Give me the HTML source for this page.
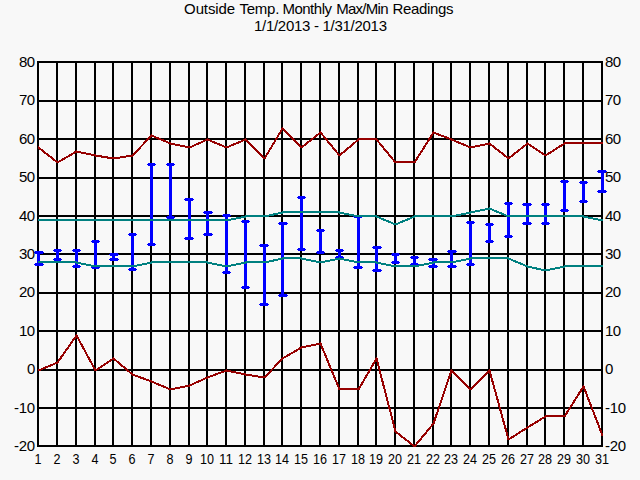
<!DOCTYPE html>
<html><head><meta charset="utf-8"><title>Outside Temp. Monthly Max/Min Readings</title>
<style>
html,body{margin:0;padding:0;background:#f8f8f8;}
body{width:640px;height:480px;overflow:hidden;position:relative;font-family:"Liberation Sans",sans-serif;}
svg{position:absolute;left:0;top:0;display:block;}
text{font-family:"Liberation Sans",sans-serif;font-size:15px;fill:#000;}
</style></head><body>
<svg width="640" height="480" viewBox="0 0 640 480">
<rect x="0" y="0" width="640" height="480" fill="#f8f8f8"/>
<!-- grid -->
<g fill="#000" shape-rendering="crispEdges">
<rect x="37" y="61" width="2" height="386"/><rect x="56" y="61" width="2" height="386"/><rect x="75" y="61" width="2" height="386"/><rect x="94" y="61" width="2" height="386"/><rect x="112" y="61" width="2" height="386"/><rect x="131" y="61" width="2" height="386"/><rect x="150" y="61" width="2" height="386"/><rect x="169" y="61" width="2" height="386"/><rect x="188" y="61" width="2" height="386"/><rect x="206" y="61" width="2" height="386"/><rect x="225" y="61" width="2" height="386"/><rect x="244" y="61" width="2" height="386"/><rect x="263" y="61" width="2" height="386"/><rect x="281" y="61" width="2" height="386"/><rect x="300" y="61" width="2" height="386"/><rect x="319" y="61" width="2" height="386"/><rect x="338" y="61" width="2" height="386"/><rect x="357" y="61" width="2" height="386"/><rect x="375" y="61" width="2" height="386"/><rect x="394" y="61" width="2" height="386"/><rect x="413" y="61" width="2" height="386"/><rect x="432" y="61" width="2" height="386"/><rect x="450" y="61" width="2" height="386"/><rect x="469" y="61" width="2" height="386"/><rect x="488" y="61" width="2" height="386"/><rect x="507" y="61" width="2" height="386"/><rect x="526" y="61" width="2" height="386"/><rect x="544" y="61" width="2" height="386"/><rect x="563" y="61" width="2" height="386"/><rect x="582" y="61" width="2" height="386"/><rect x="601" y="61" width="2" height="386"/>
<rect x="37" y="61" width="566" height="2"/><rect x="37" y="100" width="566" height="2"/><rect x="37" y="138" width="566" height="2"/><rect x="37" y="177" width="566" height="2"/><rect x="37" y="215" width="566" height="2"/><rect x="37" y="253" width="566" height="2"/><rect x="37" y="292" width="566" height="2"/><rect x="37" y="330" width="566" height="2"/><rect x="37" y="369" width="566" height="2"/><rect x="37" y="407" width="566" height="2"/><rect x="37" y="445" width="566" height="2"/>
</g>
<!-- record high / record low -->
<path fill="#960000" shape-rendering="crispEdges" d="M282 127h1v1h-1zM281 128h3v1h-3zM281 129h4v1h-4zM280 130h2v1h-2zM283 130h3v1h-3zM280 131h2v1h-2zM284 131h3v1h-3zM320 131h1v1h-1zM433 131h1v1h-1zM279 132h2v1h-2zM285 132h3v1h-3zM319 132h3v1h-3zM432 132h4v1h-4zM278 133h3v1h-3zM286 133h3v1h-3zM318 133h5v1h-5zM432 133h7v1h-7zM151 134h1v1h-1zM278 134h2v1h-2zM287 134h3v1h-3zM316 134h4v1h-4zM321 134h2v1h-2zM431 134h2v1h-2zM436 134h5v1h-5zM150 135h4v1h-4zM277 135h2v1h-2zM288 135h3v1h-3zM315 135h3v1h-3zM322 135h2v1h-2zM430 135h3v1h-3zM438 135h6v1h-6zM149 136h7v1h-7zM277 136h2v1h-2zM289 136h3v1h-3zM314 136h3v1h-3zM323 136h2v1h-2zM430 136h2v1h-2zM441 136h6v1h-6zM148 137h3v1h-3zM154 137h5v1h-5zM276 137h2v1h-2zM290 137h3v1h-3zM313 137h3v1h-3zM323 137h3v1h-3zM429 137h3v1h-3zM444 137h5v1h-5zM147 138h3v1h-3zM156 138h5v1h-5zM207 138h1v1h-1zM245 138h1v1h-1zM275 138h3v1h-3zM291 138h3v1h-3zM311 138h3v1h-3zM324 138h3v1h-3zM358 138h19v1h-19zM428 138h3v1h-3zM446 138h6v1h-6zM146 139h3v1h-3zM158 139h6v1h-6zM205 139h5v1h-5zM243 139h4v1h-4zM275 139h2v1h-2zM292 139h3v1h-3zM310 139h3v1h-3zM325 139h3v1h-3zM357 139h21v1h-21zM428 139h2v1h-2zM449 139h5v1h-5zM145 140h3v1h-3zM161 140h5v1h-5zM203 140h9v1h-9zM241 140h7v1h-7zM274 140h2v1h-2zM293 140h3v1h-3zM309 140h3v1h-3zM326 140h2v1h-2zM356 140h3v1h-3zM376 140h3v1h-3zM427 140h3v1h-3zM451 140h5v1h-5zM144 141h3v1h-3zM163 141h5v1h-5zM201 141h4v1h-4zM210 141h5v1h-5zM238 141h5v1h-5zM246 141h3v1h-3zM274 141h2v1h-2zM294 141h3v1h-3zM307 141h4v1h-4zM327 141h2v1h-2zM355 141h3v1h-3zM377 141h2v1h-2zM427 141h2v1h-2zM454 141h5v1h-5zM143 142h3v1h-3zM166 142h5v1h-5zM198 142h5v1h-5zM212 142h5v1h-5zM236 142h5v1h-5zM247 142h3v1h-3zM273 142h2v1h-2zM295 142h3v1h-3zM306 142h3v1h-3zM327 142h3v1h-3zM353 142h3v1h-3zM378 142h2v1h-2zM426 142h2v1h-2zM456 142h5v1h-5zM489 142h1v1h-1zM527 142h1v1h-1zM564 142h39v1h-39zM143 143h2v1h-2zM168 143h7v1h-7zM196 143h5v1h-5zM214 143h6v1h-6zM233 143h6v1h-6zM248 143h3v1h-3zM272 143h3v1h-3zM296 143h3v1h-3zM305 143h3v1h-3zM328 143h3v1h-3zM352 143h3v1h-3zM379 143h2v1h-2zM425 143h3v1h-3zM458 143h6v1h-6zM485 143h6v1h-6zM526 143h3v1h-3zM563 143h40v1h-40zM142 144h2v1h-2zM170 144h10v1h-10zM194 144h5v1h-5zM217 144h5v1h-5zM231 144h5v1h-5zM249 144h3v1h-3zM272 144h2v1h-2zM297 144h3v1h-3zM304 144h3v1h-3zM329 144h3v1h-3zM351 144h3v1h-3zM379 144h3v1h-3zM425 144h2v1h-2zM461 144h5v1h-5zM480 144h12v1h-12zM525 144h6v1h-6zM561 144h4v1h-4zM141 145h2v1h-2zM175 145h10v1h-10zM192 145h4v1h-4zM219 145h5v1h-5zM229 145h5v1h-5zM250 145h3v1h-3zM271 145h2v1h-2zM298 145h3v1h-3zM302 145h4v1h-4zM330 145h3v1h-3zM350 145h3v1h-3zM380 145h3v1h-3zM424 145h2v1h-2zM463 145h5v1h-5zM475 145h10v1h-10zM490 145h4v1h-4zM523 145h4v1h-4zM529 145h3v1h-3zM559 145h4v1h-4zM38 146h1v1h-1zM140 146h2v1h-2zM180 146h14v1h-14zM222 146h9v1h-9zM251 146h3v1h-3zM271 146h2v1h-2zM299 146h5v1h-5zM331 146h2v1h-2zM349 146h3v1h-3zM381 146h3v1h-3zM423 146h3v1h-3zM466 146h14v1h-14zM492 146h3v1h-3zM522 146h3v1h-3zM530 146h4v1h-4zM558 146h4v1h-4zM38 147h2v1h-2zM139 147h2v1h-2zM185 147h7v1h-7zM224 147h5v1h-5zM252 147h3v1h-3zM270 147h2v1h-2zM300 147h3v1h-3zM332 147h2v1h-2zM347 147h4v1h-4zM382 147h2v1h-2zM423 147h2v1h-2zM468 147h7v1h-7zM493 147h3v1h-3zM521 147h3v1h-3zM532 147h3v1h-3zM556 147h4v1h-4zM38 148h3v1h-3zM138 148h3v1h-3zM253 148h3v1h-3zM269 148h3v1h-3zM332 148h3v1h-3zM346 148h3v1h-3zM383 148h2v1h-2zM422 148h3v1h-3zM494 148h3v1h-3zM520 148h3v1h-3zM533 148h4v1h-4zM555 148h3v1h-3zM39 149h4v1h-4zM137 149h3v1h-3zM254 149h3v1h-3zM269 149h2v1h-2zM333 149h3v1h-3zM345 149h3v1h-3zM383 149h3v1h-3zM422 149h2v1h-2zM495 149h4v1h-4zM518 149h3v1h-3zM535 149h3v1h-3zM553 149h4v1h-4zM41 150h3v1h-3zM76 150h1v1h-1zM136 150h3v1h-3zM255 150h3v1h-3zM268 150h2v1h-2zM334 150h3v1h-3zM344 150h3v1h-3zM384 150h3v1h-3zM421 150h2v1h-2zM497 150h3v1h-3zM517 150h3v1h-3zM536 150h4v1h-4zM552 150h3v1h-3zM42 151h3v1h-3zM74 151h7v1h-7zM135 151h3v1h-3zM256 151h3v1h-3zM268 151h2v1h-2zM335 151h2v1h-2zM343 151h3v1h-3zM385 151h3v1h-3zM420 151h3v1h-3zM498 151h3v1h-3zM516 151h3v1h-3zM538 151h3v1h-3zM550 151h4v1h-4zM43 152h3v1h-3zM73 152h13v1h-13zM134 152h3v1h-3zM257 152h3v1h-3zM267 152h2v1h-2zM336 152h2v1h-2zM341 152h4v1h-4zM386 152h3v1h-3zM420 152h2v1h-2zM499 152h4v1h-4zM514 152h4v1h-4zM539 152h4v1h-4zM548 152h4v1h-4zM44 153h4v1h-4zM71 153h4v1h-4zM81 153h10v1h-10zM133 153h3v1h-3zM258 153h3v1h-3zM266 153h3v1h-3zM337 153h2v1h-2zM340 153h3v1h-3zM387 153h2v1h-2zM419 153h2v1h-2zM501 153h3v1h-3zM513 153h3v1h-3zM541 153h3v1h-3zM547 153h4v1h-4zM46 154h3v1h-3zM69 154h4v1h-4zM86 154h10v1h-10zM132 154h3v1h-3zM259 154h3v1h-3zM266 154h2v1h-2zM337 154h5v1h-5zM388 154h2v1h-2zM418 154h3v1h-3zM502 154h3v1h-3zM512 154h3v1h-3zM542 154h7v1h-7zM47 155h3v1h-3zM68 155h4v1h-4zM91 155h11v1h-11zM126 155h8v1h-8zM260 155h3v1h-3zM265 155h2v1h-2zM338 155h3v1h-3zM388 155h3v1h-3zM418 155h2v1h-2zM503 155h3v1h-3zM511 155h3v1h-3zM544 155h3v1h-3zM48 156h4v1h-4zM66 156h4v1h-4zM95 156h13v1h-13zM120 156h13v1h-13zM261 156h3v1h-3zM265 156h2v1h-2zM389 156h3v1h-3zM417 156h2v1h-2zM504 156h4v1h-4zM509 156h4v1h-4zM50 157h3v1h-3zM64 157h4v1h-4zM101 157h25v1h-25zM262 157h4v1h-4zM390 157h3v1h-3zM416 157h3v1h-3zM506 157h5v1h-5zM51 158h3v1h-3zM62 158h4v1h-4zM107 158h13v1h-13zM263 158h3v1h-3zM391 158h2v1h-2zM416 158h2v1h-2zM507 158h3v1h-3zM52 159h3v1h-3zM61 159h4v1h-4zM392 159h2v1h-2zM415 159h3v1h-3zM53 160h4v1h-4zM59 160h4v1h-4zM393 160h2v1h-2zM415 160h2v1h-2zM55 161h6v1h-6zM393 161h23v1h-23zM56 162h3v1h-3zM394 162h22v1h-22z"/>
<path fill="#960000" shape-rendering="crispEdges" d="M76 334h1v1h-1zM75 335h3v1h-3zM75 336h3v1h-3zM74 337h5v1h-5zM73 338h3v1h-3zM77 338h2v1h-2zM72 339h3v1h-3zM78 339h2v1h-2zM72 340h2v1h-2zM78 340h2v1h-2zM71 341h2v1h-2zM79 341h2v1h-2zM70 342h3v1h-3zM79 342h2v1h-2zM320 342h1v1h-1zM70 343h2v1h-2zM80 343h2v1h-2zM316 343h6v1h-6zM69 344h2v1h-2zM80 344h3v1h-3zM311 344h11v1h-11zM68 345h3v1h-3zM81 345h2v1h-2zM306 345h10v1h-10zM320 345h2v1h-2zM68 346h2v1h-2zM81 346h3v1h-3zM301 346h10v1h-10zM321 346h2v1h-2zM67 347h2v1h-2zM82 347h2v1h-2zM299 347h7v1h-7zM321 347h2v1h-2zM66 348h3v1h-3zM82 348h3v1h-3zM298 348h4v1h-4zM321 348h3v1h-3zM65 349h3v1h-3zM83 349h2v1h-2zM296 349h4v1h-4zM322 349h2v1h-2zM65 350h2v1h-2zM84 350h2v1h-2zM294 350h4v1h-4zM322 350h2v1h-2zM64 351h2v1h-2zM84 351h2v1h-2zM293 351h4v1h-4zM323 351h2v1h-2zM63 352h3v1h-3zM85 352h2v1h-2zM291 352h4v1h-4zM323 352h2v1h-2zM63 353h2v1h-2zM85 353h2v1h-2zM289 353h4v1h-4zM324 353h2v1h-2zM62 354h2v1h-2zM86 354h2v1h-2zM287 354h4v1h-4zM324 354h2v1h-2zM61 355h3v1h-3zM86 355h2v1h-2zM286 355h4v1h-4zM324 355h3v1h-3zM60 356h3v1h-3zM87 356h2v1h-2zM284 356h4v1h-4zM325 356h2v1h-2zM60 357h2v1h-2zM87 357h3v1h-3zM113 357h1v1h-1zM282 357h4v1h-4zM325 357h2v1h-2zM376 357h1v1h-1zM59 358h3v1h-3zM88 358h2v1h-2zM112 358h3v1h-3zM281 358h3v1h-3zM326 358h2v1h-2zM375 358h3v1h-3zM58 359h3v1h-3zM88 359h3v1h-3zM110 359h6v1h-6zM280 359h3v1h-3zM326 359h2v1h-2zM375 359h3v1h-3zM58 360h2v1h-2zM89 360h2v1h-2zM109 360h3v1h-3zM114 360h3v1h-3zM279 360h3v1h-3zM326 360h3v1h-3zM374 360h4v1h-4zM57 361h2v1h-2zM89 361h3v1h-3zM107 361h4v1h-4zM116 361h3v1h-3zM278 361h3v1h-3zM327 361h2v1h-2zM374 361h4v1h-4zM55 362h4v1h-4zM90 362h2v1h-2zM106 362h3v1h-3zM117 362h3v1h-3zM277 362h3v1h-3zM327 362h2v1h-2zM373 362h2v1h-2zM377 362h2v1h-2zM53 363h5v1h-5zM91 363h2v1h-2zM104 363h4v1h-4zM118 363h3v1h-3zM276 363h3v1h-3zM328 363h2v1h-2zM372 363h3v1h-3zM377 363h2v1h-2zM50 364h5v1h-5zM91 364h2v1h-2zM103 364h3v1h-3zM119 364h3v1h-3zM275 364h3v1h-3zM328 364h2v1h-2zM372 364h2v1h-2zM377 364h2v1h-2zM48 365h5v1h-5zM92 365h2v1h-2zM101 365h4v1h-4zM120 365h3v1h-3zM274 365h3v1h-3zM328 365h3v1h-3zM371 365h3v1h-3zM377 365h2v1h-2zM45 366h6v1h-6zM92 366h2v1h-2zM100 366h3v1h-3zM121 366h4v1h-4zM274 366h2v1h-2zM329 366h2v1h-2zM371 366h2v1h-2zM378 366h2v1h-2zM43 367h5v1h-5zM93 367h2v1h-2zM98 367h4v1h-4zM123 367h3v1h-3zM273 367h2v1h-2zM329 367h2v1h-2zM370 367h2v1h-2zM378 367h2v1h-2zM41 368h5v1h-5zM93 368h3v1h-3zM97 368h3v1h-3zM124 368h3v1h-3zM272 368h2v1h-2zM330 368h2v1h-2zM370 368h2v1h-2zM378 368h2v1h-2zM38 369h5v1h-5zM94 369h5v1h-5zM125 369h3v1h-3zM226 369h1v1h-1zM271 369h2v1h-2zM330 369h2v1h-2zM369 369h2v1h-2zM378 369h2v1h-2zM451 369h1v1h-1zM489 369h1v1h-1zM38 370h3v1h-3zM94 370h3v1h-3zM126 370h3v1h-3zM224 370h7v1h-7zM270 370h2v1h-2zM331 370h2v1h-2zM368 370h3v1h-3zM379 370h2v1h-2zM450 370h3v1h-3zM488 370h3v1h-3zM127 371h3v1h-3zM221 371h15v1h-15zM269 371h3v1h-3zM331 371h2v1h-2zM368 371h2v1h-2zM379 371h2v1h-2zM450 371h4v1h-4zM487 371h4v1h-4zM129 372h3v1h-3zM218 372h6v1h-6zM231 372h10v1h-10zM268 372h3v1h-3zM331 372h3v1h-3zM367 372h3v1h-3zM379 372h2v1h-2zM450 372h5v1h-5zM486 372h5v1h-5zM130 373h3v1h-3zM215 373h6v1h-6zM236 373h10v1h-10zM267 373h3v1h-3zM332 373h2v1h-2zM367 373h2v1h-2zM379 373h2v1h-2zM449 373h3v1h-3zM453 373h3v1h-3zM485 373h3v1h-3zM489 373h2v1h-2zM131 374h4v1h-4zM213 374h5v1h-5zM241 374h11v1h-11zM266 374h3v1h-3zM332 374h2v1h-2zM366 374h2v1h-2zM380 374h2v1h-2zM449 374h2v1h-2zM454 374h3v1h-3zM484 374h3v1h-3zM490 374h2v1h-2zM132 375h6v1h-6zM210 375h6v1h-6zM245 375h13v1h-13zM265 375h3v1h-3zM333 375h2v1h-2zM365 375h3v1h-3zM380 375h2v1h-2zM449 375h2v1h-2zM455 375h3v1h-3zM483 375h3v1h-3zM490 375h2v1h-2zM135 376h6v1h-6zM207 376h6v1h-6zM252 376h15v1h-15zM333 376h2v1h-2zM365 376h2v1h-2zM380 376h2v1h-2zM448 376h3v1h-3zM456 376h3v1h-3zM482 376h3v1h-3zM490 376h2v1h-2zM138 377h6v1h-6zM205 377h5v1h-5zM258 377h8v1h-8zM333 377h3v1h-3zM364 377h3v1h-3zM380 377h2v1h-2zM448 377h2v1h-2zM457 377h3v1h-3zM481 377h3v1h-3zM490 377h2v1h-2zM140 378h6v1h-6zM203 378h5v1h-5zM334 378h2v1h-2zM364 378h2v1h-2zM381 378h2v1h-2zM448 378h2v1h-2zM458 378h3v1h-3zM480 378h3v1h-3zM491 378h2v1h-2zM143 379h6v1h-6zM201 379h4v1h-4zM334 379h2v1h-2zM363 379h2v1h-2zM381 379h2v1h-2zM447 379h2v1h-2zM459 379h3v1h-3zM479 379h3v1h-3zM491 379h2v1h-2zM146 380h6v1h-6zM198 380h5v1h-5zM335 380h2v1h-2zM363 380h2v1h-2zM381 380h2v1h-2zM447 380h2v1h-2zM460 380h3v1h-3zM478 380h3v1h-3zM491 380h2v1h-2zM149 381h5v1h-5zM196 381h5v1h-5zM335 381h2v1h-2zM362 381h2v1h-2zM381 381h3v1h-3zM447 381h2v1h-2zM461 381h3v1h-3zM477 381h3v1h-3zM491 381h3v1h-3zM151 382h5v1h-5zM194 382h5v1h-5zM336 382h2v1h-2zM361 382h3v1h-3zM382 382h2v1h-2zM446 382h2v1h-2zM462 382h3v1h-3zM476 382h3v1h-3zM492 382h2v1h-2zM154 383h5v1h-5zM192 383h4v1h-4zM336 383h2v1h-2zM361 383h2v1h-2zM382 383h2v1h-2zM446 383h2v1h-2zM463 383h3v1h-3zM475 383h3v1h-3zM492 383h2v1h-2zM156 384h5v1h-5zM189 384h5v1h-5zM336 384h3v1h-3zM360 384h3v1h-3zM382 384h2v1h-2zM446 384h2v1h-2zM464 384h3v1h-3zM474 384h3v1h-3zM492 384h2v1h-2zM158 385h6v1h-6zM185 385h7v1h-7zM337 385h2v1h-2zM360 385h2v1h-2zM382 385h3v1h-3zM445 385h2v1h-2zM465 385h3v1h-3zM473 385h3v1h-3zM493 385h2v1h-2zM583 385h1v1h-1zM161 386h5v1h-5zM180 386h10v1h-10zM337 386h2v1h-2zM359 386h2v1h-2zM383 386h2v1h-2zM445 386h2v1h-2zM466 386h3v1h-3zM472 386h3v1h-3zM493 386h2v1h-2zM582 386h3v1h-3zM163 387h5v1h-5zM175 387h10v1h-10zM338 387h2v1h-2zM358 387h3v1h-3zM383 387h2v1h-2zM445 387h2v1h-2zM467 387h3v1h-3zM471 387h3v1h-3zM493 387h2v1h-2zM582 387h3v1h-3zM166 388h14v1h-14zM338 388h22v1h-22zM383 388h2v1h-2zM444 388h2v1h-2zM468 388h5v1h-5zM493 388h2v1h-2zM581 388h4v1h-4zM168 389h7v1h-7zM338 389h22v1h-22zM384 389h2v1h-2zM444 389h2v1h-2zM469 389h3v1h-3zM494 389h2v1h-2zM580 389h3v1h-3zM584 389h2v1h-2zM384 390h2v1h-2zM444 390h2v1h-2zM494 390h2v1h-2zM580 390h2v1h-2zM584 390h2v1h-2zM384 391h2v1h-2zM443 391h2v1h-2zM494 391h2v1h-2zM579 391h3v1h-3zM584 391h3v1h-3zM384 392h2v1h-2zM443 392h2v1h-2zM495 392h2v1h-2zM578 392h3v1h-3zM585 392h2v1h-2zM385 393h2v1h-2zM443 393h2v1h-2zM495 393h2v1h-2zM578 393h2v1h-2zM585 393h2v1h-2zM385 394h2v1h-2zM442 394h2v1h-2zM495 394h2v1h-2zM577 394h3v1h-3zM586 394h2v1h-2zM385 395h2v1h-2zM442 395h2v1h-2zM495 395h2v1h-2zM577 395h2v1h-2zM586 395h2v1h-2zM385 396h2v1h-2zM442 396h2v1h-2zM496 396h2v1h-2zM576 396h2v1h-2zM586 396h2v1h-2zM386 397h2v1h-2zM441 397h2v1h-2zM496 397h2v1h-2zM575 397h3v1h-3zM587 397h2v1h-2zM386 398h2v1h-2zM441 398h2v1h-2zM496 398h2v1h-2zM575 398h2v1h-2zM587 398h2v1h-2zM386 399h2v1h-2zM441 399h2v1h-2zM496 399h3v1h-3zM574 399h2v1h-2zM587 399h3v1h-3zM386 400h2v1h-2zM440 400h2v1h-2zM497 400h2v1h-2zM573 400h3v1h-3zM588 400h2v1h-2zM387 401h2v1h-2zM440 401h2v1h-2zM497 401h2v1h-2zM573 401h2v1h-2zM588 401h2v1h-2zM387 402h2v1h-2zM440 402h2v1h-2zM497 402h2v1h-2zM572 402h3v1h-3zM589 402h2v1h-2zM387 403h2v1h-2zM439 403h2v1h-2zM498 403h2v1h-2zM572 403h2v1h-2zM589 403h2v1h-2zM387 404h2v1h-2zM439 404h2v1h-2zM498 404h2v1h-2zM571 404h2v1h-2zM589 404h3v1h-3zM388 405h2v1h-2zM439 405h2v1h-2zM498 405h2v1h-2zM570 405h3v1h-3zM590 405h2v1h-2zM388 406h2v1h-2zM438 406h2v1h-2zM498 406h2v1h-2zM570 406h2v1h-2zM590 406h2v1h-2zM388 407h2v1h-2zM438 407h2v1h-2zM499 407h2v1h-2zM569 407h2v1h-2zM591 407h2v1h-2zM388 408h3v1h-3zM438 408h2v1h-2zM499 408h2v1h-2zM568 408h3v1h-3zM591 408h2v1h-2zM389 409h2v1h-2zM437 409h2v1h-2zM499 409h2v1h-2zM568 409h2v1h-2zM591 409h2v1h-2zM389 410h2v1h-2zM437 410h2v1h-2zM499 410h3v1h-3zM567 410h2v1h-2zM592 410h2v1h-2zM389 411h2v1h-2zM437 411h2v1h-2zM500 411h2v1h-2zM566 411h3v1h-3zM592 411h2v1h-2zM390 412h2v1h-2zM436 412h2v1h-2zM500 412h2v1h-2zM566 412h2v1h-2zM593 412h2v1h-2zM390 413h2v1h-2zM436 413h2v1h-2zM500 413h2v1h-2zM565 413h3v1h-3zM593 413h2v1h-2zM390 414h2v1h-2zM435 414h3v1h-3zM501 414h2v1h-2zM565 414h2v1h-2zM593 414h2v1h-2zM390 415h2v1h-2zM435 415h2v1h-2zM501 415h2v1h-2zM545 415h21v1h-21zM594 415h2v1h-2zM391 416h2v1h-2zM435 416h2v1h-2zM501 416h2v1h-2zM544 416h22v1h-22zM594 416h2v1h-2zM391 417h2v1h-2zM434 417h3v1h-3zM501 417h2v1h-2zM542 417h4v1h-4zM594 417h3v1h-3zM391 418h2v1h-2zM434 418h2v1h-2zM502 418h2v1h-2zM540 418h4v1h-4zM595 418h2v1h-2zM391 419h2v1h-2zM434 419h2v1h-2zM502 419h2v1h-2zM539 419h3v1h-3zM595 419h2v1h-2zM392 420h2v1h-2zM433 420h3v1h-3zM502 420h2v1h-2zM537 420h4v1h-4zM596 420h2v1h-2zM392 421h2v1h-2zM433 421h2v1h-2zM502 421h3v1h-3zM535 421h4v1h-4zM596 421h2v1h-2zM392 422h2v1h-2zM433 422h2v1h-2zM503 422h2v1h-2zM534 422h4v1h-4zM596 422h3v1h-3zM392 423h2v1h-2zM432 423h3v1h-3zM503 423h2v1h-2zM532 423h4v1h-4zM597 423h2v1h-2zM393 424h2v1h-2zM431 424h3v1h-3zM503 424h2v1h-2zM530 424h4v1h-4zM597 424h2v1h-2zM393 425h2v1h-2zM431 425h2v1h-2zM504 425h2v1h-2zM529 425h4v1h-4zM598 425h2v1h-2zM393 426h2v1h-2zM430 426h2v1h-2zM504 426h2v1h-2zM527 426h4v1h-4zM598 426h2v1h-2zM393 427h2v1h-2zM429 427h2v1h-2zM504 427h2v1h-2zM526 427h3v1h-3zM598 427h2v1h-2zM394 428h2v1h-2zM428 428h3v1h-3zM504 428h3v1h-3zM524 428h4v1h-4zM599 428h2v1h-2zM394 429h2v1h-2zM427 429h3v1h-3zM505 429h2v1h-2zM522 429h4v1h-4zM599 429h2v1h-2zM394 430h2v1h-2zM426 430h3v1h-3zM505 430h2v1h-2zM521 430h4v1h-4zM599 430h3v1h-3zM394 431h3v1h-3zM426 431h2v1h-2zM505 431h2v1h-2zM519 431h4v1h-4zM600 431h2v1h-2zM395 432h3v1h-3zM425 432h2v1h-2zM506 432h2v1h-2zM518 432h3v1h-3zM600 432h2v1h-2zM396 433h4v1h-4zM424 433h3v1h-3zM506 433h2v1h-2zM516 433h4v1h-4zM601 433h2v1h-2zM398 434h3v1h-3zM423 434h3v1h-3zM506 434h2v1h-2zM515 434h3v1h-3zM601 434h2v1h-2zM399 435h3v1h-3zM422 435h3v1h-3zM506 435h2v1h-2zM513 435h4v1h-4zM601 435h2v1h-2zM400 436h3v1h-3zM421 436h3v1h-3zM507 436h2v1h-2zM511 436h4v1h-4zM401 437h4v1h-4zM421 437h2v1h-2zM507 437h2v1h-2zM510 437h4v1h-4zM403 438h3v1h-3zM420 438h2v1h-2zM507 438h5v1h-5zM404 439h3v1h-3zM419 439h3v1h-3zM507 439h3v1h-3zM405 440h4v1h-4zM418 440h3v1h-3zM407 441h3v1h-3zM417 441h3v1h-3zM408 442h3v1h-3zM416 442h3v1h-3zM409 443h3v1h-3zM416 443h2v1h-2zM410 444h4v1h-4zM415 444h2v1h-2zM412 445h5v1h-5zM413 446h3v1h-3z"/>
<!-- daily hi/lo bars -->
<g fill="#0000ff" shape-rendering="crispEdges">
<rect x="37" y="252" width="3" height="12"/><rect x="35" y="251" width="8" height="3"/><rect x="34" y="252" width="10" height="1"/><rect x="35" y="263" width="8" height="3"/><rect x="34" y="264" width="10" height="1"/>
<rect x="56" y="250" width="3" height="9"/><rect x="54" y="249" width="7" height="3"/><rect x="53" y="250" width="9" height="1"/><rect x="54" y="258" width="7" height="3"/><rect x="53" y="259" width="9" height="1"/>
<rect x="75" y="250" width="3" height="16"/><rect x="73" y="249" width="7" height="3"/><rect x="72" y="250" width="9" height="1"/><rect x="73" y="265" width="7" height="3"/><rect x="72" y="266" width="9" height="1"/>
<rect x="94" y="241" width="3" height="26"/><rect x="92" y="240" width="7" height="3"/><rect x="91" y="241" width="9" height="1"/><rect x="92" y="266" width="7" height="3"/><rect x="91" y="267" width="9" height="1"/>
<rect x="112" y="254" width="3" height="5"/><rect x="110" y="253" width="8" height="3"/><rect x="109" y="254" width="10" height="1"/><rect x="110" y="258" width="8" height="3"/><rect x="109" y="259" width="10" height="1"/>
<rect x="131" y="234" width="3" height="35"/><rect x="129" y="233" width="7" height="3"/><rect x="128" y="234" width="9" height="1"/><rect x="129" y="268" width="7" height="3"/><rect x="128" y="269" width="9" height="1"/>
<rect x="150" y="164" width="3" height="80"/><rect x="148" y="163" width="7" height="3"/><rect x="147" y="164" width="9" height="1"/><rect x="148" y="243" width="7" height="3"/><rect x="147" y="244" width="9" height="1"/>
<rect x="169" y="164" width="3" height="53"/><rect x="167" y="163" width="7" height="3"/><rect x="166" y="164" width="9" height="1"/><rect x="167" y="216" width="7" height="3"/><rect x="166" y="217" width="9" height="1"/>
<rect x="188" y="199" width="3" height="39"/><rect x="185" y="198" width="8" height="3"/><rect x="184" y="199" width="10" height="1"/><rect x="185" y="237" width="8" height="3"/><rect x="184" y="238" width="10" height="1"/>
<rect x="206" y="212" width="3" height="22"/><rect x="204" y="211" width="8" height="3"/><rect x="203" y="212" width="10" height="1"/><rect x="204" y="233" width="8" height="3"/><rect x="203" y="234" width="10" height="1"/>
<rect x="225" y="215" width="3" height="57"/><rect x="223" y="214" width="7" height="3"/><rect x="222" y="215" width="9" height="1"/><rect x="223" y="271" width="7" height="3"/><rect x="222" y="272" width="9" height="1"/>
<rect x="244" y="221" width="3" height="66"/><rect x="242" y="220" width="7" height="3"/><rect x="241" y="221" width="9" height="1"/><rect x="242" y="286" width="7" height="3"/><rect x="241" y="287" width="9" height="1"/>
<rect x="263" y="245" width="3" height="59"/><rect x="260" y="244" width="8" height="3"/><rect x="259" y="245" width="10" height="1"/><rect x="260" y="303" width="8" height="3"/><rect x="259" y="304" width="10" height="1"/>
<rect x="281" y="223" width="3" height="72"/><rect x="279" y="222" width="8" height="3"/><rect x="278" y="223" width="10" height="1"/><rect x="279" y="294" width="8" height="3"/><rect x="278" y="295" width="10" height="1"/>
<rect x="300" y="197" width="3" height="52"/><rect x="298" y="196" width="7" height="3"/><rect x="297" y="197" width="9" height="1"/><rect x="298" y="248" width="7" height="3"/><rect x="297" y="249" width="9" height="1"/>
<rect x="319" y="230" width="3" height="22"/><rect x="317" y="229" width="7" height="3"/><rect x="316" y="230" width="9" height="1"/><rect x="317" y="251" width="7" height="3"/><rect x="316" y="252" width="9" height="1"/>
<rect x="338" y="250" width="3" height="7"/><rect x="336" y="249" width="7" height="3"/><rect x="335" y="250" width="9" height="1"/><rect x="336" y="256" width="7" height="3"/><rect x="335" y="257" width="9" height="1"/>
<rect x="357" y="216" width="3" height="51"/><rect x="354" y="215" width="8" height="3"/><rect x="353" y="216" width="10" height="1"/><rect x="354" y="266" width="8" height="3"/><rect x="353" y="267" width="10" height="1"/>
<rect x="375" y="247" width="3" height="23"/><rect x="373" y="246" width="8" height="3"/><rect x="372" y="247" width="10" height="1"/><rect x="373" y="269" width="8" height="3"/><rect x="372" y="270" width="10" height="1"/>
<rect x="394" y="254" width="3" height="8"/><rect x="392" y="253" width="7" height="3"/><rect x="391" y="254" width="9" height="1"/><rect x="392" y="261" width="7" height="3"/><rect x="391" y="262" width="9" height="1"/>
<rect x="413" y="257" width="3" height="7"/><rect x="411" y="256" width="7" height="3"/><rect x="410" y="257" width="9" height="1"/><rect x="411" y="263" width="7" height="3"/><rect x="410" y="264" width="9" height="1"/>
<rect x="432" y="259" width="3" height="7"/><rect x="429" y="258" width="8" height="3"/><rect x="428" y="259" width="10" height="1"/><rect x="429" y="265" width="8" height="3"/><rect x="428" y="266" width="10" height="1"/>
<rect x="450" y="251" width="3" height="15"/><rect x="448" y="250" width="8" height="3"/><rect x="447" y="251" width="10" height="1"/><rect x="448" y="265" width="8" height="3"/><rect x="447" y="266" width="10" height="1"/>
<rect x="469" y="222" width="3" height="42"/><rect x="467" y="221" width="7" height="3"/><rect x="466" y="222" width="9" height="1"/><rect x="467" y="263" width="7" height="3"/><rect x="466" y="264" width="9" height="1"/>
<rect x="488" y="224" width="3" height="17"/><rect x="486" y="223" width="7" height="3"/><rect x="485" y="224" width="9" height="1"/><rect x="486" y="240" width="7" height="3"/><rect x="485" y="241" width="9" height="1"/>
<rect x="507" y="203" width="3" height="33"/><rect x="505" y="202" width="7" height="3"/><rect x="504" y="203" width="9" height="1"/><rect x="505" y="235" width="7" height="3"/><rect x="504" y="236" width="9" height="1"/>
<rect x="526" y="204" width="3" height="19"/><rect x="523" y="203" width="8" height="3"/><rect x="522" y="204" width="10" height="1"/><rect x="523" y="222" width="8" height="3"/><rect x="522" y="223" width="10" height="1"/>
<rect x="544" y="204" width="3" height="19"/><rect x="542" y="203" width="7" height="3"/><rect x="541" y="204" width="9" height="1"/><rect x="542" y="222" width="7" height="3"/><rect x="541" y="223" width="9" height="1"/>
<rect x="563" y="181" width="3" height="29"/><rect x="561" y="180" width="7" height="3"/><rect x="560" y="181" width="9" height="1"/><rect x="561" y="209" width="7" height="3"/><rect x="560" y="210" width="9" height="1"/>
<rect x="582" y="182" width="3" height="19"/><rect x="580" y="181" width="7" height="3"/><rect x="579" y="182" width="9" height="1"/><rect x="580" y="200" width="7" height="3"/><rect x="579" y="201" width="9" height="1"/>
<rect x="601" y="171" width="3" height="20"/><rect x="598" y="170" width="8" height="3"/><rect x="597" y="171" width="10" height="1"/><rect x="598" y="190" width="8" height="3"/><rect x="597" y="191" width="10" height="1"/>
</g>
<!-- normal high / normal low -->
<path fill="#008080" shape-rendering="crispEdges" d="M489 207h1v1h-1zM485 208h7v1h-7zM480 209h14v1h-14zM475 210h10v1h-10zM492 210h5v1h-5zM282 211h58v1h-58zM470 211h10v1h-10zM494 211h5v1h-5zM278 212h66v1h-66zM466 212h9v1h-9zM496 212h6v1h-6zM273 213h10v1h-10zM339 213h10v1h-10zM461 213h10v1h-10zM499 213h5v1h-5zM269 214h9v1h-9zM344 214h10v1h-10zM456 214h10v1h-10zM501 214h5v1h-5zM245 215h29v1h-29zM349 215h28v1h-28zM414 215h47v1h-47zM504 215h80v1h-80zM241 216h28v1h-28zM354 216h25v1h-25zM412 216h44v1h-44zM506 216h82v1h-82zM236 217h10v1h-10zM376 217h5v1h-5zM410 217h5v1h-5zM583 217h10v1h-10zM231 218h10v1h-10zM379 218h5v1h-5zM407 218h5v1h-5zM588 218h10v1h-10zM38 219h198v1h-198zM381 219h5v1h-5zM405 219h5v1h-5zM593 219h10v1h-10zM38 220h193v1h-193zM383 220h6v1h-6zM402 220h6v1h-6zM598 220h5v1h-5zM386 221h5v1h-5zM400 221h5v1h-5zM388 222h5v1h-5zM398 222h5v1h-5zM391 223h9v1h-9zM393 224h5v1h-5z"/>
<path fill="#008080" shape-rendering="crispEdges" d="M282 257h20v1h-20zM339 257h1v1h-1zM470 257h39v1h-39zM278 258h28v1h-28zM335 258h9v1h-9zM466 258h45v1h-45zM273 259h10v1h-10zM301 259h10v1h-10zM330 259h19v1h-19zM461 259h10v1h-10zM508 259h5v1h-5zM269 260h9v1h-9zM306 260h10v1h-10zM325 260h10v1h-10zM344 260h10v1h-10zM456 260h10v1h-10zM511 260h5v1h-5zM38 261h39v1h-39zM151 261h57v1h-57zM245 261h29v1h-29zM311 261h19v1h-19zM349 261h28v1h-28zM433 261h28v1h-28zM513 261h5v1h-5zM38 262h43v1h-43zM147 262h65v1h-65zM241 262h28v1h-28zM316 262h9v1h-9zM354 262h27v1h-27zM429 262h27v1h-27zM515 262h6v1h-6zM76 263h10v1h-10zM142 263h10v1h-10zM207 263h10v1h-10zM236 263h10v1h-10zM376 263h10v1h-10zM424 263h10v1h-10zM518 263h5v1h-5zM81 264h10v1h-10zM137 264h10v1h-10zM212 264h10v1h-10zM231 264h10v1h-10zM381 264h10v1h-10zM419 264h10v1h-10zM520 264h5v1h-5zM86 265h56v1h-56zM217 265h19v1h-19zM386 265h38v1h-38zM523 265h5v1h-5zM564 265h39v1h-39zM91 266h46v1h-46zM222 266h9v1h-9zM391 266h28v1h-28zM525 266h7v1h-7zM560 266h43v1h-43zM527 267h10v1h-10zM555 267h10v1h-10zM532 268h9v1h-9zM550 268h10v1h-10zM536 269h19v1h-19zM541 270h9v1h-9z"/>
<!-- labels -->
<text x="184.1" y="13.6" textLength="50.9" lengthAdjust="spacing">Outside</text><text x="239.45" y="13.6" textLength="39.9" lengthAdjust="spacing">Temp.</text><text x="282.4" y="13.6" textLength="49.6" lengthAdjust="spacing">Monthly</text><text x="336.15" y="13.6" textLength="52.35" lengthAdjust="spacing">Max/Min</text><text x="392.4" y="13.6" textLength="61.1" lengthAdjust="spacing">Readings</text>
<text x="254" y="30.6" textLength="133" lengthAdjust="spacing">1/1/2013 - 1/31/2013</text>
<text x="19" y="67.0" textLength="16" lengthAdjust="spacing">80</text><text x="605" y="67.0" textLength="16" lengthAdjust="spacing">80</text>
<text x="19" y="105.0" textLength="16" lengthAdjust="spacing">70</text><text x="605" y="105.0" textLength="16" lengthAdjust="spacing">70</text>
<text x="19" y="144.0" textLength="16" lengthAdjust="spacing">60</text><text x="605" y="144.0" textLength="16" lengthAdjust="spacing">60</text>
<text x="19" y="182.0" textLength="16" lengthAdjust="spacing">50</text><text x="605" y="182.0" textLength="16" lengthAdjust="spacing">50</text>
<text x="19" y="221.0" textLength="16" lengthAdjust="spacing">40</text><text x="605" y="221.0" textLength="16" lengthAdjust="spacing">40</text>
<text x="19" y="259.0" textLength="16" lengthAdjust="spacing">30</text><text x="605" y="259.0" textLength="16" lengthAdjust="spacing">30</text>
<text x="19" y="297.0" textLength="16" lengthAdjust="spacing">20</text><text x="605" y="297.0" textLength="16" lengthAdjust="spacing">20</text>
<text x="19" y="336.0" textLength="16" lengthAdjust="spacing">10</text><text x="605" y="336.0" textLength="16" lengthAdjust="spacing">10</text>
<text x="27" y="374.0" textLength="8" lengthAdjust="spacing">0</text><text x="605" y="374.0" textLength="8" lengthAdjust="spacing">0</text>
<text x="14" y="413.0" textLength="21" lengthAdjust="spacing">-10</text><text x="605" y="413.0" textLength="21" lengthAdjust="spacing">-10</text>
<text x="14" y="451.0" textLength="21" lengthAdjust="spacing">-20</text><text x="605" y="451.0" textLength="21" lengthAdjust="spacing">-20</text>
<text x="34.5" y="464" textLength="7.0" lengthAdjust="spacingAndGlyphs">1</text><text x="53.5" y="464" textLength="7.0" lengthAdjust="spacingAndGlyphs">2</text><text x="72.5" y="464" textLength="7.0" lengthAdjust="spacingAndGlyphs">3</text><text x="91.5" y="464" textLength="7.0" lengthAdjust="spacingAndGlyphs">4</text><text x="109.5" y="464" textLength="7.0" lengthAdjust="spacingAndGlyphs">5</text><text x="128.5" y="464" textLength="7.0" lengthAdjust="spacingAndGlyphs">6</text><text x="147.5" y="464" textLength="7.0" lengthAdjust="spacingAndGlyphs">7</text><text x="166.5" y="464" textLength="7.0" lengthAdjust="spacingAndGlyphs">8</text><text x="185.5" y="464" textLength="7.0" lengthAdjust="spacingAndGlyphs">9</text><text x="200.0" y="464" textLength="14.0" lengthAdjust="spacingAndGlyphs">10</text><text x="219.0" y="464" textLength="14.0" lengthAdjust="spacingAndGlyphs">11</text><text x="238.0" y="464" textLength="14.0" lengthAdjust="spacingAndGlyphs">12</text><text x="257.0" y="464" textLength="14.0" lengthAdjust="spacingAndGlyphs">13</text><text x="275.0" y="464" textLength="14.0" lengthAdjust="spacingAndGlyphs">14</text><text x="294.0" y="464" textLength="14.0" lengthAdjust="spacingAndGlyphs">15</text><text x="313.0" y="464" textLength="14.0" lengthAdjust="spacingAndGlyphs">16</text><text x="332.0" y="464" textLength="14.0" lengthAdjust="spacingAndGlyphs">17</text><text x="351.0" y="464" textLength="14.0" lengthAdjust="spacingAndGlyphs">18</text><text x="369.0" y="464" textLength="14.0" lengthAdjust="spacingAndGlyphs">19</text><text x="388.0" y="464" textLength="14.0" lengthAdjust="spacingAndGlyphs">20</text><text x="407.0" y="464" textLength="14.0" lengthAdjust="spacingAndGlyphs">21</text><text x="426.0" y="464" textLength="14.0" lengthAdjust="spacingAndGlyphs">22</text><text x="444.0" y="464" textLength="14.0" lengthAdjust="spacingAndGlyphs">23</text><text x="463.0" y="464" textLength="14.0" lengthAdjust="spacingAndGlyphs">24</text><text x="482.0" y="464" textLength="14.0" lengthAdjust="spacingAndGlyphs">25</text><text x="501.0" y="464" textLength="14.0" lengthAdjust="spacingAndGlyphs">26</text><text x="520.0" y="464" textLength="14.0" lengthAdjust="spacingAndGlyphs">27</text><text x="538.0" y="464" textLength="14.0" lengthAdjust="spacingAndGlyphs">28</text><text x="557.0" y="464" textLength="14.0" lengthAdjust="spacingAndGlyphs">29</text><text x="576.0" y="464" textLength="14.0" lengthAdjust="spacingAndGlyphs">30</text><text x="595.0" y="464" textLength="14.0" lengthAdjust="spacingAndGlyphs">31</text>
</svg>
</body></html>
